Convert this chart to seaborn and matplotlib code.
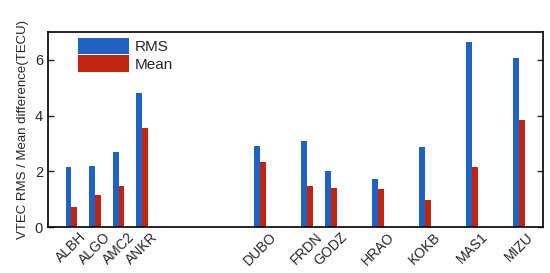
import pandas as pd
import matplotlib
matplotlib.use("Agg")
import matplotlib.pyplot as plt
import seaborn as sns

stations = ["ALBH", "ALGO", "AMC2", "ANKR", "DUBO", "FRDN", "GODZ",
            "HRAO", "KOKB", "MAS1", "MIZU"]
pos = [0, 1, 2, 3, 8, 10, 11, 13, 15, 17, 19]
rms = [2.14, 2.20, 2.68, 4.80, 2.91, 3.09, 2.02, 1.72, 2.87, 6.63, 6.05]
mean = [0.71, 1.17, 1.48, 3.55, 2.34, 1.46, 1.40, 1.36, 0.97, 2.14, 3.84]

df = pd.DataFrame({
    "pos": pos * 2,
    "val": rms + mean,
    "kind": ["RMS"] * len(rms) + ["Mean"] * len(mean),
})

sns.set_style("white")
plt.rcParams["font.family"] = ["Liberation Sans", "DejaVu Sans"]

fig = plt.figure(figsize=(5.5, 2.73), dpi=100)
ax = fig.add_axes([0.087, 0.168, 0.9, 0.715])
# empty slots keep the uneven spacing between stations
sns.barplot(data=df, x="pos", y="val", hue="kind", order=list(range(20)),
            palette={"RMS": "#2062c2", "Mean": "#c0260f"}, width=0.5,
            saturation=1, linewidth=0, ax=ax)

ax.set_xlim(-1, 20)
ax.set_ylim(0, 7)
ax.set_yticks([0, 2, 4, 6])
ax.set_xticks(pos)
ax.set_xticklabels(stations, rotation=45)
ax.set_xlabel("")
ax.set_ylabel("VTEC RMS / Mean difference(TECU)", fontsize=9.5)
ax.tick_params(axis="y", direction="in", left=True, right=True, length=4,
               labelsize=10.5, width=1)
ax.tick_params(axis="x", length=0, labelsize=10, pad=2)
for s in ax.spines.values():
    s.set_visible(True)
    s.set_color("black")
    s.set_linewidth(1.2)

leg = ax.legend(loc="upper left", frameon=False, fontsize=11,
                handlelength=3.35, handleheight=1.25, handletextpad=0.35,
                labelspacing=0.1, borderaxespad=0.1,
                bbox_to_anchor=(0.045, 1.01))

fig.savefig("out.png", dpi=100)
